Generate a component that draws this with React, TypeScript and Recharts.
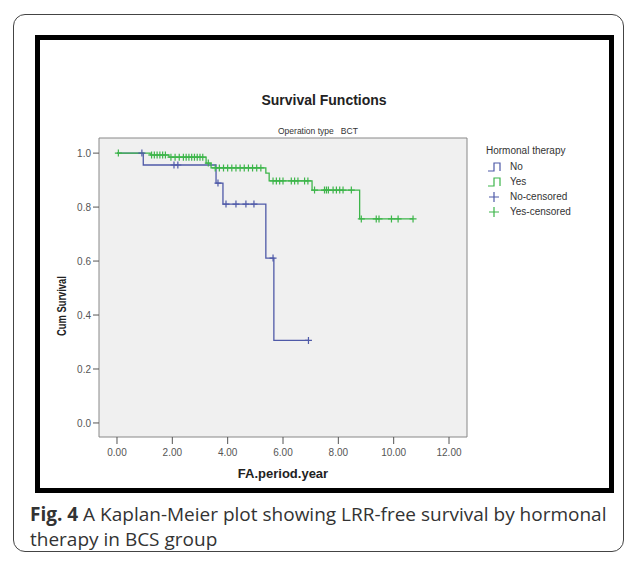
import { ComposedChart, Line, Scatter, XAxis, YAxis, ReferenceArea, Label } from 'recharts';

// Kaplan-Meier steps
const noStepTimes = [0, 0.95, 3.58, 3.83, 5.38, 5.67, 6.92];
const noStepSurv = [1.0, 0.956, 0.889, 0.811, 0.611, 0.306, 0.306];
const noCensorTimes = [0.9, 2.06, 2.2, 3.65, 3.94, 4.3, 4.66, 4.95, 5.64, 6.92];

const yesStepTimes = [0, 1.2, 1.88, 3.22, 3.4, 5.38, 5.5, 7.05, 8.77, 10.7];
const yesStepSurv = [1.0, 0.993, 0.985, 0.963, 0.945, 0.926, 0.897, 0.863, 0.756, 0.756];
const yesCensorTimes = [
  0.05, 1.25, 1.35, 1.45, 1.55, 1.65, 1.75, 1.95, 2.1, 2.25, 2.4, 2.5, 2.6, 2.7, 2.8, 2.9, 3.0, 3.1,
  3.3, 3.55, 3.7, 3.85, 4.0, 4.15, 4.3, 4.45, 4.6, 4.75, 4.9, 5.05, 5.2, 5.64, 5.76, 5.88, 6.0, 6.3,
  6.42, 6.54, 6.78, 6.9, 7.14, 7.5, 7.57, 7.64, 7.81, 7.93, 8.05, 8.17, 8.47, 8.83, 9.37, 9.47, 9.92,
  10.16, 10.7,
];

const xTicks = [0, 2, 4, 6, 8, 10, 12];
const yTicks = [0, 0.2, 0.4, 0.6, 0.8, 1.0];

const BLUE = '#4f5aa8';
const GREEN = '#3db54a';
const FONT = '"Liberation Sans", Arial, sans-serif';

const steps = (times: number[], surv: number[]) => times.map((t, i) => ({ t, s: surv[i] }));
const survAt = (times: number[], surv: number[], x: number) => {
  let v = surv[0];
  times.forEach((t, i) => {
    if (t <= x) v = surv[i];
  });
  return v;
};
const censors = (ct: number[], times: number[], surv: number[]) => ct.map((t) => ({ t, s: survAt(times, surv, t) }));

const plus = (color: string) => (p: any) => (
  <path d={`M${p.cx - 3.5},${p.cy}H${p.cx + 3.5}M${p.cx},${p.cy - 3.5}V${p.cy + 3.5}`} stroke={color} strokeWidth={1.2} fill="none" />
);

function LegendBox() {
  const row = (icon: any, text: string) => (
    <div style={{ display: 'flex', alignItems: 'center', height: 15 }}>
      <svg width={20} height={12} style={{ marginRight: 4 }}>{icon}</svg>
      <span>{text}</span>
    </div>
  );
  const stepIcon = (c: string) => <path d="M2,10H8V2H14V10" stroke={c} strokeWidth={1.2} fill="none" />;
  const plusIcon = (c: string) => <path d="M3,6H13M8,1V11" stroke={c} strokeWidth={1.2} fill="none" />;
  return (
    <div style={{ fontFamily: FONT, fontSize: 10, color: '#333', lineHeight: '12px' }}>
      <div style={{ marginBottom: 2 }}>Hormonal therapy</div>
      {row(stepIcon(BLUE), 'No')}
      {row(stepIcon(GREEN), 'Yes')}
      {row(plusIcon(BLUE), 'No-censored')}
      {row(plusIcon(GREEN), 'Yes-censored')}
    </div>
  );
}

const tickStyle = { fontSize: 10, fill: '#555', fontFamily: FONT };

export default function App() {
  return (
    <div style={{ position: 'absolute', left: 0, top: 0, width: 637, height: 563, background: '#fff' }}>
      <div style={{ position: 'absolute', left: 13, top: 14, width: 611, height: 538, border: '1.5px solid #444', borderRadius: 12, boxSizing: 'border-box' }} />
      <div style={{ position: 'absolute', left: 35, top: 35, width: 579, height: 458, border: '5px solid #000', boxSizing: 'border-box' }} />
      <div style={{ position: 'absolute', left: 0, top: 0 }}>
        <ComposedChart width={637} height={563} margin={{ top: 138, right: 170, bottom: 96, left: 59 }}>
          <XAxis
            type="number"
            dataKey="t"
            domain={[-0.65, 12.65]}
            ticks={xTicks}
            tickFormatter={(v: number) => v.toFixed(2)}
            tick={{ ...tickStyle, dy: 3 }}
            tickLine={{ stroke: '#555' }}
            tickSize={7}
            axisLine={false}
            height={30}
            allowDataOverflow
          >
            <Label value="FA.period.year" position="insideBottom" offset={-11} style={{ fontSize: 13, fontWeight: 'bold', fill: '#222', fontFamily: FONT }} />
          </XAxis>
          <YAxis
            type="number"
            dataKey="s"
            domain={[-0.052, 1.056]}
            ticks={yTicks}
            tickFormatter={(v: number) => v.toFixed(1)}
            tick={tickStyle}
            tickLine={{ stroke: '#555' }}
            tickSize={6}
            axisLine={false}
            width={40}
            allowDataOverflow
          />
          <ReferenceArea x1={-0.65} x2={12.65} y1={-0.052} y2={1.056} fill="#f0f0f0" fillOpacity={1} stroke="#888" strokeWidth={1} />
          <Line data={steps(noStepTimes, noStepSurv)} dataKey="s" type="stepAfter" stroke={BLUE} strokeWidth={1.3} dot={false} isAnimationActive={false} />
          <Line data={steps(yesStepTimes, yesStepSurv)} dataKey="s" type="stepAfter" stroke={GREEN} strokeWidth={1.3} dot={false} isAnimationActive={false} />
          <Scatter data={censors(noCensorTimes, noStepTimes, noStepSurv)} dataKey="s" shape={plus(BLUE)} isAnimationActive={false} />
          <Scatter data={censors(yesCensorTimes, yesStepTimes, yesStepSurv)} dataKey="s" shape={plus(GREEN)} isAnimationActive={false} />
          <text x={324} y={105} textAnchor="middle" style={{ fontSize: 14, fontWeight: 'bold', fill: '#222', fontFamily: FONT }}>
            Survival Functions
          </text>
          <text x={278} y={134} style={{ fontSize: 8.5, fill: '#333', fontFamily: FONT }} xmlSpace="preserve">
            Operation type   BCT
          </text>
          <text transform="translate(66,306) rotate(-90) scale(0.78,1)" textAnchor="middle" style={{ fontSize: 12, fontWeight: 'bold', fill: '#222', fontFamily: FONT }}>
            Cum Survival
          </text>
        </ComposedChart>
      </div>
      <div style={{ position: 'absolute', left: 486, top: 145, width: 120 }}>
        <LegendBox />
      </div>
      <div style={{ position: 'absolute', left: 30, top: 502, fontFamily: '"Open Sans", sans-serif', fontSize: 19, lineHeight: '25px', color: '#333', whiteSpace: 'nowrap' }}>
        <b>Fig. 4</b> A Kaplan-Meier plot showing LRR-free survival by hormonal
        <br />
        therapy in BCS group
      </div>
    </div>
  );
}
